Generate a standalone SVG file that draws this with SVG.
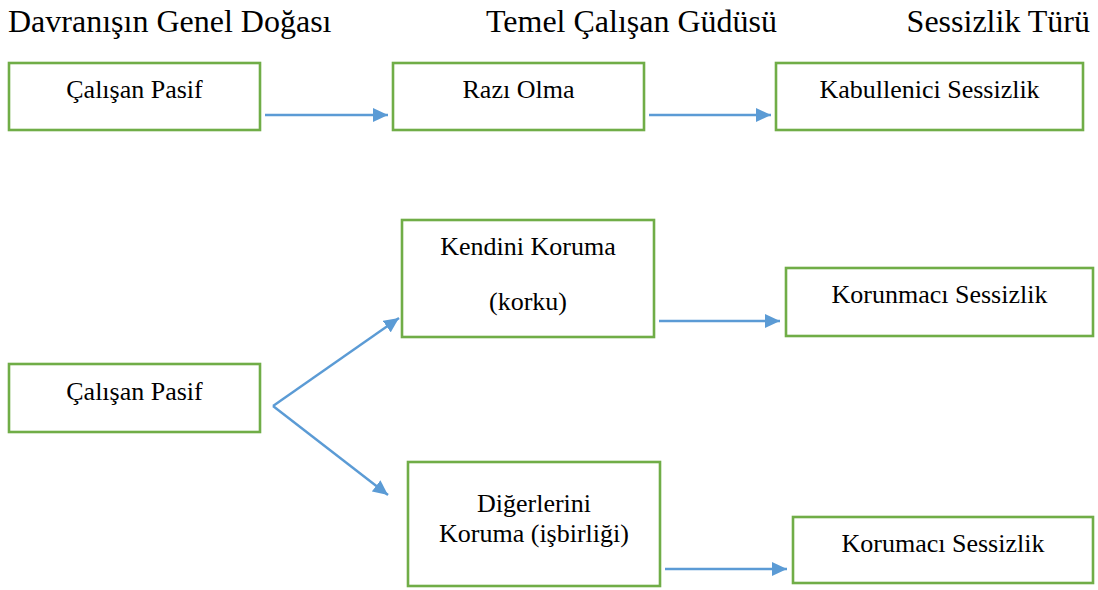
<svg xmlns="http://www.w3.org/2000/svg" width="1098" height="590" viewBox="0 0 1098 590">
<defs>
<style>
.box{fill:#fff;stroke:#70AD47;stroke-width:2.6}
.t{font-family:'Liberation Serif','Times New Roman','DejaVu Serif',serif;font-size:26px;fill:#000;text-anchor:middle}
.h{font-family:'Liberation Serif','Times New Roman','DejaVu Serif',serif;font-size:32px;fill:#000}
.c{fill:none;stroke:#5B9BD5;stroke-width:2.4}
</style>
<marker id="ah" markerUnits="userSpaceOnUse" markerWidth="16" markerHeight="14" refX="15" refY="7" orient="auto">
<path d="M0,0 L15,7 L0,14 Z" fill="#5B9BD5"/>
</marker>
</defs>
<rect width="1098" height="590" fill="#fff"/>
<g id="headers">
<text class="h" x="8" y="32">Davranışın Genel Doğası</text>
<text class="h" x="486" y="32">Temel Çalışan Güdüsü</text>
<text class="h" x="1090" y="32" text-anchor="end">Sessizlik Türü</text>
</g>
<g id="n1"><rect class="box" x="9" y="63" width="251" height="67"/><text class="t" x="134.5" y="98">Çalışan Pasif</text></g>
<g id="n2"><rect class="box" x="393" y="63" width="251" height="67"/><text class="t" x="518.5" y="98">Razı Olma</text></g>
<g id="n3"><rect class="box" x="776" y="63" width="307" height="67"/><text class="t" x="929.5" y="98">Kabullenici Sessizlik</text></g>
<g id="n4"><rect class="box" x="9" y="364" width="251" height="68"/><text class="t" x="134.5" y="400">Çalışan Pasif</text></g>
<g id="n5"><rect class="box" x="402" y="220" width="252" height="117"/><text class="t" x="528" y="255">Kendini Koruma</text><text class="t" x="528" y="310">(korku)</text></g>
<g id="n6"><rect class="box" x="786" y="268" width="307" height="68"/><text class="t" x="939.5" y="303">Korunmacı Sessizlik</text></g>
<g id="n7"><rect class="box" x="408" y="462" width="252" height="124"/><text class="t" x="534" y="512">Diğerlerini</text><text class="t" x="534" y="542">Koruma (işbirliği)</text></g>
<g id="n8"><rect class="box" x="793" y="517" width="300" height="66"/><text class="t" x="943" y="552">Korumacı Sessizlik</text></g>
<g id="connectors">
<line class="c" x1="265" y1="115" x2="388" y2="115" marker-end="url(#ah)"/>
<line class="c" x1="649" y1="115" x2="771" y2="115" marker-end="url(#ah)"/>
<line class="c" x1="659" y1="321" x2="780" y2="321" marker-end="url(#ah)"/>
<line class="c" x1="665" y1="569" x2="787" y2="569" marker-end="url(#ah)"/>
<line class="c" x1="273" y1="406" x2="399" y2="318" marker-end="url(#ah)"/>
<line class="c" x1="273" y1="406" x2="388" y2="495" marker-end="url(#ah)"/>
</g>
</svg>
